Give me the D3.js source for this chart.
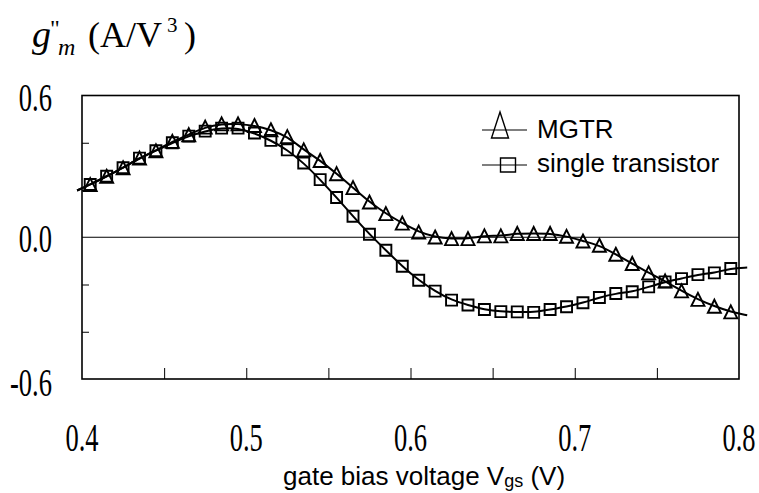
<!DOCTYPE html>
<html>
<head>
<meta charset="utf-8">
<script src="https://cdn.jsdelivr.net/npm/d3@7/dist/d3.min.js"></script>
<style>
  html, body { margin: 0; padding: 0; background: #fff; }
  svg { display: block; }
</style>
</head>
<body>
<svg id="chart" width="759" height="493"></svg>
<script>
// gate bias voltage (V) of every marker
var vgs = [0.405, 0.415, 0.425, 0.435, 0.445, 0.455, 0.465, 0.475, 0.485, 0.495,
  0.505, 0.515, 0.525, 0.535, 0.545, 0.555, 0.565, 0.575, 0.585, 0.595,
  0.605, 0.615, 0.625, 0.635, 0.645, 0.655, 0.665, 0.675, 0.685, 0.695,
  0.705, 0.715, 0.725, 0.735, 0.745, 0.755, 0.765, 0.775, 0.785, 0.795]

// g''m (A/V^3), MGTR
var mgtr = [0.223, 0.258, 0.294, 0.335, 0.366, 0.406, 0.434, 0.466, 0.480, 0.480,
  0.473, 0.455, 0.426, 0.370, 0.325, 0.269, 0.210, 0.149, 0.100, 0.060,
  0.022, 0.001, -0.006, -0.006, 0.006, 0.006, 0.016, 0.016, 0.016, 0.004,
  -0.016, -0.034, -0.072, -0.111, -0.151, -0.185, -0.227, -0.263, -0.292, -0.316]

// g''m (A/V^3), single transistor
var single = [0.223, 0.258, 0.294, 0.335, 0.366, 0.400, 0.428, 0.449, 0.462, 0.462,
  0.441, 0.410, 0.370, 0.314, 0.244, 0.168, 0.089, 0.013, -0.055, -0.123,
  -0.182, -0.228, -0.266, -0.287, -0.306, -0.315, -0.316, -0.318, -0.306, -0.294,
  -0.277, -0.255, -0.238, -0.231, -0.210, -0.189, -0.175, -0.158, -0.151, -0.132]

// fitted curves run a little past the frame on both sides
var mgtrEnds = [[0.397, 0.198], [0.805, -0.330]]
var singleEnds = [[0.397, 0.198], [0.805, -0.128]]

var xTickLabels = [0.4, 0.5, 0.6, 0.7, 0.8]
var xMinorTicks = [0.45, 0.5, 0.55, 0.6, 0.65, 0.7, 0.75]
var yTickValues = [0.6, 0.0, -0.6]
var yTickLabels = ['0.6', '0.0', '-0.6']
var yMinorTicks = [0.4, 0.2, -0.2, -0.4]

;(function () {
  var svg = d3.select('#chart')
  var pLeft = 82, pRight = 739, pTop = 95.5, pBottom = 379

  var x = d3.scaleLinear().domain([0.4, 0.8]).range([pLeft, pRight])
  var y = d3.scaleLinear().domain([-0.6, 0.6]).range([pBottom, pTop])

  var serif = 'Liberation Serif, Times New Roman, serif'
  var sans = 'Liberation Sans, Arial, sans-serif'

  // frame
  svg.append('rect')
    .attr('x', pLeft).attr('y', pTop)
    .attr('width', pRight - pLeft).attr('height', pBottom - pTop)
    .attr('fill', 'none').attr('stroke', '#000').attr('stroke-width', 1.6)

  // zero line
  svg.append('line')
    .attr('x1', pLeft).attr('x2', pRight)
    .attr('y1', y(0)).attr('y2', y(0))
    .attr('stroke', '#000').attr('stroke-width', 1)

  // ticks pointing inside
  var xAxis = svg.append('g')
    .attr('transform', 'translate(0,' + pBottom + ')')
    .call(d3.axisBottom(x).tickValues(xMinorTicks).tickSizeInner(-11).tickSizeOuter(0).tickFormat(''))
  xAxis.select('.domain').remove()
  xAxis.selectAll('line').attr('stroke', '#000').attr('stroke-width', 1)

  var yAxis = svg.append('g')
    .attr('transform', 'translate(' + pLeft + ',0)')
    .call(d3.axisLeft(y).tickValues(yMinorTicks).tickSizeInner(-7).tickSizeOuter(0).tickFormat(''))
  yAxis.select('.domain').remove()
  yAxis.selectAll('line').attr('stroke', '#000').attr('stroke-width', 1)

  // tick labels (narrow Times look)
  svg.append('g').selectAll('text')
    .data(xTickLabels)
    .enter()
    .append('text')
    .attr('transform', function (d) {
      return 'translate(' + x(d) + ',451) scale(0.68,1)'
    })
    .attr('text-anchor', 'middle')
    .attr('font-family', serif)
    .attr('font-size', 39)
    .text(function (d) {
      return d.toFixed(1)
    })

  svg.append('g').selectAll('text')
    .data(yTickValues)
    .enter()
    .append('text')
    .attr('transform', function (d) {
      return 'translate(52,' + (y(d) + (d < 0 ? 17 : 15)) + ') scale(0.68,1)'
    })
    .attr('text-anchor', 'end')
    .attr('font-family', serif)
    .attr('font-size', 39)
    .text(function (d, i) {
      return yTickLabels[i]
    })

  // axis title
  var xt = svg.append('text')
    .attr('x', 283).attr('y', 485)
    .attr('font-family', sans).attr('font-size', 26)
  xt.append('tspan').text('gate bias voltage V')
  xt.append('tspan').attr('font-size', 18).attr('dy', 2).text('gs')
  xt.append('tspan').attr('dy', -2).text(' (V)')

  // y title g''m (A/V3)
  svg.append('text').attr('x', 32).attr('y', 47)
    .attr('font-family', serif).attr('font-size', 38).attr('font-style', 'italic').text('g')
  svg.append('text').attr('x', 50).attr('y', 36)
    .attr('font-family', serif).attr('font-size', 24).text('"')
  svg.append('text').attr('x', 58).attr('y', 55)
    .attr('font-family', serif).attr('font-size', 24).attr('font-style', 'italic').text('m')
  svg.append('text').attr('x', 88).attr('y', 47)
    .attr('font-family', serif).attr('font-size', 36).text('(A/V')
  svg.append('text').attr('x', 167).attr('y', 32)
    .attr('font-family', serif).attr('font-size', 21).text('3')
  svg.append('text').attr('x', 184).attr('y', 47)
    .attr('font-family', serif).attr('font-size', 36).text(')')

  // marker shapes
  function triPath(w, h) {
    return 'M0,' + (-h / 2) + 'L' + (w / 2) + ',' + (h / 2) + 'L' + (-w / 2) + ',' + (h / 2) + 'Z'
  }
  function sqPath(w, h) {
    return 'M' + (-w / 2) + ',' + (-h / 2) + 'h' + w + 'v' + h + 'h' + (-w) + 'Z'
  }

  var line = d3.line()
    .x(function (d) { return x(d[0]) })
    .y(function (d) { return y(d[1]) })
    .curve(d3.curveBasis)

  var series = [
    { name: 'MGTR', values: mgtr, ends: mgtrEnds, marker: triPath(13, 13) },
    { name: 'single transistor', values: single, ends: singleEnds, marker: sqPath(11, 11) }
  ]

  series.forEach(function (s) {
    var pts = vgs.map(function (v, i) { return [v, s.values[i]] })
    var fit = [s.ends[0]].concat(pts, [s.ends[1]])

    svg.append('path')
      .datum(fit)
      .attr('d', line)
      .attr('fill', 'none')
      .attr('stroke', '#000')
      .attr('stroke-width', 2)

    svg.append('g').selectAll('path')
      .data(pts)
      .enter()
      .append('path')
      .attr('transform', function (d) {
        return 'translate(' + x(d[0]) + ',' + y(d[1]) + ')'
      })
      .attr('d', s.marker)
      .attr('fill', 'none')
      .attr('stroke', '#000')
      .attr('stroke-width', 1.9)
  })

  // legend
  var legend = [
    { label: 'MGTR', ly: 130, my: 125, ty: 138, cx: 500, marker: triPath(17, 26) },
    { label: 'single transistor', ly: 165, my: 165, ty: 172, cx: 508, marker: sqPath(15, 14) }
  ]
  legend.forEach(function (l) {
    svg.append('line')
      .attr('x1', 482).attr('x2', 527)
      .attr('y1', l.ly).attr('y2', l.ly)
      .attr('stroke', '#000').attr('stroke-width', 1.2)
    svg.append('path')
      .attr('transform', 'translate(' + l.cx + ',' + l.my + ')')
      .attr('d', l.marker)
      .attr('fill', 'none').attr('stroke', '#000').attr('stroke-width', 1.4)
    svg.append('text')
      .attr('x', 537).attr('y', l.ty)
      .attr('font-family', sans).attr('font-size', 26)
      .text(l.label)
  })
})()
</script>
</body>
</html>
